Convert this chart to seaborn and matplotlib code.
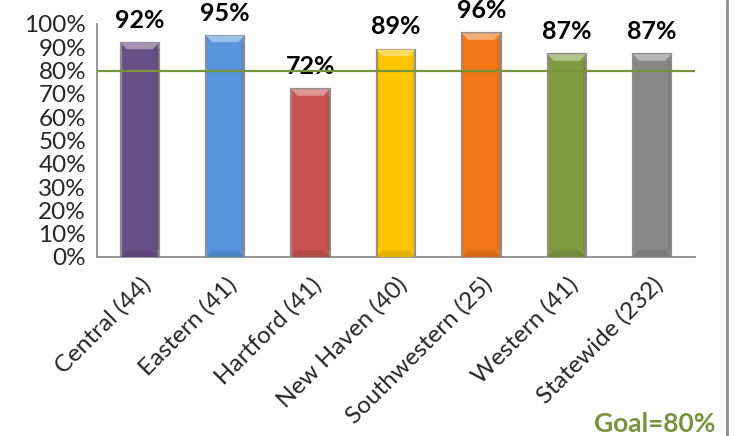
import matplotlib
matplotlib.use("Agg")
import matplotlib.pyplot as plt
from matplotlib.patches import Polygon
from matplotlib.lines import Line2D
import matplotlib.colors as mcolors
import matplotlib.transforms as mtransforms
import seaborn as sns
import pandas as pd
import numpy as np

regions = ["Central (44)", "Eastern (41)", "Hartford (41)", "New Haven (40)",
           "Southwestern (25)", "Western (41)", "Statewide (232)"]
rates = [92, 95, 72, 89, 96, 87, 87]
bar_colors = ["#684E87", "#5794DC", "#C8504E", "#FFC600", "#F07616", "#7E9B3E", "#878787"]
goal = 80
y_ticks = list(range(0, 101, 10))
y_tick_labels = [f"{t}%" for t in y_ticks]

sns.set_style("white")
plt.rcParams["font.family"] = ["Lato", "DejaVu Sans"]

df = pd.DataFrame({"region": regions, "rate": rates})

fig = plt.figure(figsize=(7.36, 4.36), dpi=100)
ax = fig.add_axes([0.132, 0.4106, 0.812, 0.5344])

sns.barplot(data=df, x="region", y="rate", hue="region", palette=bar_colors,
            legend=False, width=0.45, edgecolor="#8E8E8E", linewidth=1.6,
            saturation=1, ax=ax)

# bevel highlights on top and shading at the base of each bar
for patch, col in zip(ax.patches, bar_colors):
    x0 = patch.get_x()
    w = patch.get_width()
    h = patch.get_height()
    inset = w * 0.16
    rgb = np.array(mcolors.to_rgb(col))
    light = tuple(rgb + (1 - rgb) * 0.4)
    dark = tuple(rgb * 0.9)
    bev = 2.8
    ax.add_patch(Polygon([[x0, h], [x0 + w, h], [x0 + w - inset, h - bev], [x0 + inset, h - bev]],
                         closed=True, facecolor=light, edgecolor="none", zorder=3))
    ax.add_patch(Polygon([[x0, 0], [x0 + w, 0], [x0 + w - inset, bev], [x0 + inset, bev]],
                         closed=True, facecolor=dark, edgecolor="none", zorder=3))
    ax.add_patch(Polygon([[x0 + w - inset * 0.5, bev], [x0 + w, bev], [x0 + w, h - bev], [x0 + w - inset * 0.5, h - bev]],
                         closed=True, facecolor=dark, edgecolor="none", alpha=0.5, zorder=3))

# goal line
ax.axhline(goal, color="#77933C", linewidth=1.6, zorder=4)

# value labels
for i, v in enumerate(rates):
    ax.annotate(f"{v}%", xy=(i, v), xytext=(0, 8), textcoords="offset points",
                ha="center", va="bottom", fontsize=18, fontweight="bold",
                color="black", annotation_clip=False)

ax.set_ylim(0, 100)
ax.set_xlim(-0.5, len(regions) - 0.5)
ax.set_yticks(y_ticks)
ax.set_yticklabels(y_tick_labels, fontsize=17.5)
ax.set_xlabel("")
ax.set_ylabel("")

ax.set_xticks(range(len(regions)))
ax.set_xticklabels(regions, rotation=45, ha="right", rotation_mode="anchor", fontsize=17.5)
ax.set_xticks(np.arange(-0.5, len(regions), 1.0), minor=True)
ax.tick_params(axis="x", which="major", length=0, pad=12)
ax.tick_params(axis="x", which="minor", length=7, width=1.3, color="#8E8E8E", direction="out")
ax.tick_params(axis="y", length=6, width=1.3, color="#8E8E8E", direction="out", pad=2)
for lab in ax.get_xticklabels():
    lab.set_transform(lab.get_transform() + mtransforms.ScaledTranslation(0, 0, fig.dpi_scale_trans))

for side in ["top", "right"]:
    ax.spines[side].set_visible(False)
for side in ["left", "bottom"]:
    ax.spines[side].set_color("#8E8E8E")
    ax.spines[side].set_linewidth(1.3)

fig.text(0.9715, 0.0, "Goal=80%", ha="right", va="bottom", fontsize=19,
         fontweight="bold", color="#77933C")
fig.add_artist(Line2D([0.9878, 0.9878], [0, 1], transform=fig.transFigure,
                      color="#8E8E8E", linewidth=2))

fig.savefig("out.png", dpi=100)
